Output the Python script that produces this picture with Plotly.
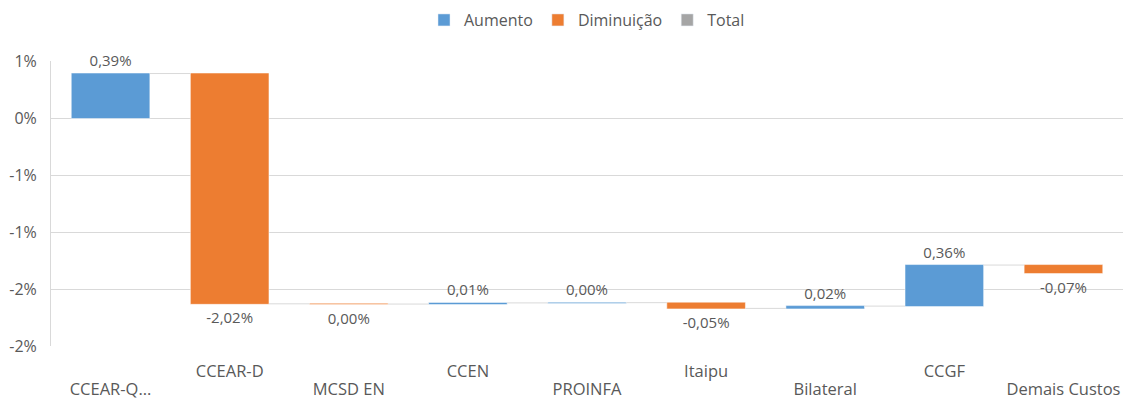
import plotly.graph_objects as go

categories = ["CCEAR-Q...", "CCEAR-D", "MCSD EN", "CCEN", "PROINFA",
              "Itaipu", "Bilateral", "CCGF", "Demais Custos"]
deltas = [0.39, -2.02, -0.002, 0.01, 0.002, -0.05, 0.02, 0.36, -0.07]
labels = ["0,39%", "-2,02%", "0,00%", "0,01%", "0,00%",
          "-0,05%", "0,02%", "0,36%", "-0,07%"]
y_tickvals = [0.5, 0, -0.5, -1, -1.5, -2]
y_ticktext = ["1%", "0%", "-1%", "-1%", "-2%", "-2%"]
legend_names = ["Aumento", "Diminuição", "Total"]

C_UP = "#5B9BD5"
C_DOWN = "#ED7D31"
C_TOT = "#A5A5A5"
TXT = "#595959"
FONT = "Open Sans"

n = len(categories)
upper_text = [c if i % 2 == 1 else "" for i, c in enumerate(categories)]
lower_idx = [i for i in range(n) if i % 2 == 0]
lower_text = [categories[i] for i in lower_idx]

fig = go.Figure()
fig.add_trace(go.Waterfall(
    x=categories, y=deltas, measure=["relative"] * n,
    text=labels, textposition="outside", constraintext="none",
    textfont=dict(family=FONT, size=15, color=TXT),
    increasing=dict(marker=dict(color=C_UP, line=dict(color="white", width=0.5))),
    decreasing=dict(marker=dict(color=C_DOWN, line=dict(color="white", width=0.5))),
    totals=dict(marker=dict(color=C_TOT)),
    connector=dict(line=dict(color="#D9D9D9", width=1)),
    showlegend=False, cliponaxis=False, width=0.66,
    hoverinfo="skip",
))
for name, col in zip(legend_names, [C_UP, C_DOWN, C_TOT]):
    fig.add_trace(go.Bar(x=[categories[0]], y=[None], name=name,
                         marker=dict(color=col), showlegend=True))
fig.add_trace(go.Scatter(x=[None], y=[None], xaxis="x2", showlegend=False,
                         hoverinfo="skip"))

fig.update_layout(
    width=1124, height=401,
    margin=dict(l=51, r=1, t=61, b=55, autoexpand=False),
    paper_bgcolor="white", plot_bgcolor="white",
    separators=",.",
    font=dict(family=FONT, size=15, color=TXT),
    legend=dict(orientation="h", x=0.5, xanchor="center", y=0.95, yanchor="middle",
                yref="container", font=dict(family=FONT, size=16, color=TXT),
                itemwidth=30, traceorder="normal"),
    barmode="overlay",
    showlegend=True,
    xaxis=dict(tickmode="array", tickvals=categories, ticktext=upper_text,
               showgrid=False, showline=False, ticks="", zeroline=False,
               automargin=False, ticklabelstandoff=13,
               tickfont=dict(family=FONT, size=16.5, color=TXT),
               range=[-0.5, n - 0.5]),
    xaxis2=dict(overlaying="x", side="bottom", anchor="y", type="linear",
                range=[-0.5, n - 0.5], tickmode="array", tickvals=lower_idx,
                ticktext=lower_text, showgrid=False, showline=False, ticks="",
                zeroline=False, automargin=False, ticklabelstandoff=31,
                tickfont=dict(family=FONT, size=16.5, color=TXT)),
)
fig.update_yaxes(tickmode="array", tickvals=y_tickvals, ticktext=y_ticktext,
                 range=[-2, 0.5], showgrid=True, gridcolor="#D9D9D9", gridwidth=1,
                 zeroline=False, showline=True, linecolor="#D9D9D9", ticks="",
                 ticklabelstandoff=10, automargin=False,
                 tickfont=dict(family=FONT, size=16, color=TXT))
fig.write_html("out.html", config={"displayModeBar": False},
               post_script="document.body.style.margin='0';document.body.style.overflow='hidden';")
